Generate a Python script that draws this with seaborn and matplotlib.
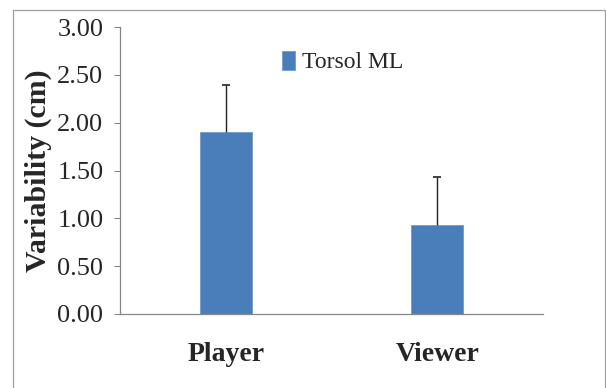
import matplotlib
matplotlib.use("Agg")
import matplotlib.pyplot as plt
import seaborn as sns
import pandas as pd
from matplotlib.patches import Rectangle

categories = ["Player", "Viewer"]
values = [1.90, 0.93]
errors = [0.50, 0.50]
series_name = "Torsol ML"
yticks = [0.0, 0.5, 1.0, 1.5, 2.0, 2.5, 3.0]

sns.set_style("white")
plt.rcParams["font.family"] = ["Liberation Serif", "DejaVu Serif"]

df = pd.DataFrame({"cat": categories, "val": values, "series": [series_name] * len(categories)})

fig = plt.figure(figsize=(6.06, 3.88), dpi=100)
ax = fig.add_axes([0.198, 0.191, 0.698, 0.739])

sns.barplot(data=df, x="cat", y="val", hue="series", palette=["#4A7EBB"],
            width=0.245, ax=ax, errorbar=None, edgecolor="#6f9bd0", linewidth=0.6,
            saturation=1, legend=True)

for p, e in zip(ax.patches[:len(values)], errors):
    cx = p.get_x() + p.get_width() / 2
    h = p.get_height()
    ax.vlines(cx, h, h + e, color="#222222", linewidth=1.0)
    ax.hlines(h + e, cx - 0.018, cx + 0.018, color="#222222", linewidth=1.2)

ax.set_xlim(-0.5, 1.5)
ax.set_ylim(0, 3.0)
ax.set_yticks(yticks)
ax.set_yticklabels([f"{t:.2f}" for t in yticks], fontsize=19)
ax.set_xticks(range(len(categories)))
ax.set_xticklabels(categories, fontsize=20, fontweight="bold")
ax.set_xlabel("")
ax.set_ylabel("Variability (cm)", fontsize=21.5, fontweight="bold", labelpad=4)
ax.tick_params(axis="x", length=0, pad=20)
ax.tick_params(axis="y", length=4, color="#868686", width=0.8, pad=8, direction="out", left=True)
for s in ["top", "right"]:
    ax.spines[s].set_visible(False)
for s in ["left", "bottom"]:
    ax.spines[s].set_color("#868686")
    ax.spines[s].set_linewidth(0.9)

leg = ax.legend(loc="center left", bbox_to_anchor=(270 / 606, 1 - 62 / 388),
                bbox_transform=fig.transFigure, frameon=False, fontsize=17,
                handlelength=0.55, handleheight=0.9, handletextpad=0.3, borderpad=0)

fig.patches.append(Rectangle((13 / 606, -0.01), (605 - 13) / 606, 1 - 10 / 388 + 0.01,
                             transform=fig.transFigure, fill=False,
                             edgecolor="#a0a0a0", linewidth=0.9, zorder=-1))

fig.savefig("out.png", dpi=100)
